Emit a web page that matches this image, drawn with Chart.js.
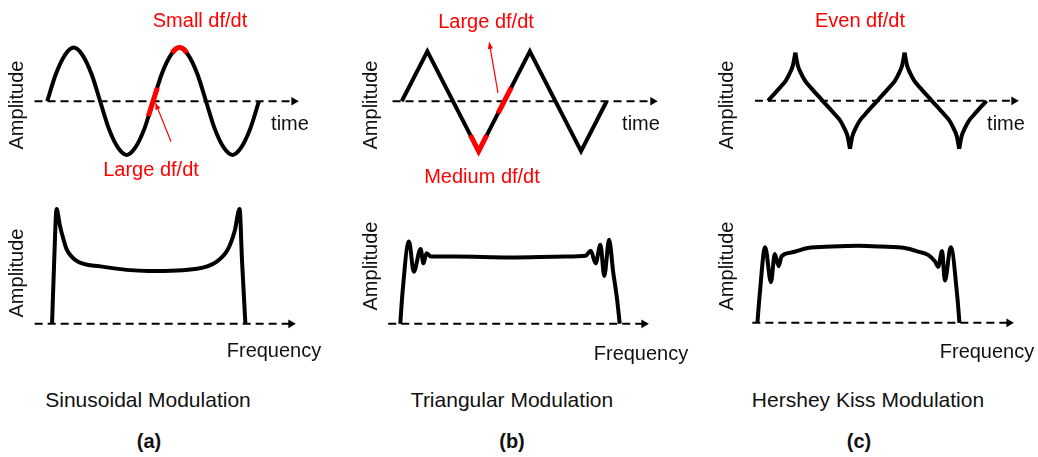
<!DOCTYPE html>
<html>
<head>
<meta charset="utf-8">
<script src="https://cdn.jsdelivr.net/npm/chart.js@4.4.1/dist/chart.umd.min.js"></script>
<style>
  html, body { margin: 0; padding: 0; background: #fff; }
  body { width: 1038px; height: 457px; position: relative; overflow: hidden;
         font-family: "Liberation Sans", Arial, sans-serif; }
  canvas { position: absolute; }
  .lbl { position: absolute; font-size: 20px; line-height: 20px; white-space: nowrap; color: #111;
         transform: translate(-50%, -50%); }
  .red { color: #ff0000; }
  .rot { transform: translate(-50%, -50%) rotate(-90deg); }
  .cap { font-size: 21px; }
  .bold { font-weight: bold; }
</style>
</head>
<body>
<script>
// ---- (a) sinusoidal modulation: time in periods, amplitude -1..1
const sinT = [0, 0.08, 0.17, 0.25, 0.33, 0.42, 0.5, 0.58, 0.67, 0.75, 0.83, 0.92, 1,
              1.08, 1.17, 1.25, 1.33, 1.42, 1.5, 1.58, 1.67, 1.75, 1.83, 1.92, 2];
const sinA = [0, 0.5, 0.87, 1, 0.87, 0.5, 0, -0.5, -0.87, -1, -0.87, -0.5, 0,
              0.5, 0.87, 1, 0.87, 0.5, 0, -0.5, -0.87, -1, -0.87, -0.5, 0];
const sinSmallT = [1.18, 1.21, 1.25, 1.29, 1.32];
const sinSmallA = [0.9, 0.97, 1, 0.97, 0.9];
const sinLargeT = [0.955, 1.04];
const sinLargeA = [-0.28, 0.25];
// spectrum (a): frequency -1..1, amplitude relative to peak
const specAF = [-1, -0.98, -0.953, -0.92, -0.88, -0.85, -0.75, -0.5, 0, 0.5, 0.7, 0.82, 0.89, 0.94, 0.965, 1];
const specAA = [0, 0.5, 1, 0.86, 0.73, 0.65, 0.55, 0.5, 0.46, 0.48, 0.54, 0.65, 0.81, 1, 0.55, 0];

// ---- (b) triangular modulation
const triT = [0, 0.25, 0.75, 1.25, 1.75, 2];
const triA = [0, 1, -1, 1, -1, 0];
const triMedT = [0.67, 0.75, 0.83];
const triMedA = [-0.68, -1, -0.68];
const triLargeT = [0.94, 1.07];
const triLargeA = [-0.24, 0.28];
const specBF = [-1, -0.98, -0.921, -0.877, -0.815, -0.789, -0.762, -0.72, -0.5, 0, 0.5, 0.69,
                0.736, 0.78, 0.824, 0.859, 0.903, 0.94, 0.975, 1];
const specBA = [0, 0.37, 0.98, 0.62, 0.89, 0.72, 0.84, 0.8, 0.8, 0.79, 0.8, 0.81,
                0.87, 0.72, 0.94, 0.57, 1, 0.62, 0.3, 0];

// ---- (c) hershey kiss modulation
const kissT = [0, 0.115, 0.163, 0.2, 0.228, 0.25, 0.272, 0.3, 0.338, 0.385, 0.5,
               0.615, 0.663, 0.7, 0.728, 0.75, 0.772, 0.8, 0.838, 0.885, 1,
               1.115, 1.163, 1.2, 1.228, 1.25, 1.272, 1.3, 1.338, 1.385, 1.5,
               1.615, 1.663, 1.7, 1.728, 1.75, 1.772, 1.8, 1.838, 1.885, 2];
const kissA = [0, 0.29, 0.42, 0.58, 0.74, 1, 0.74, 0.58, 0.42, 0.29, 0,
               -0.29, -0.42, -0.58, -0.74, -1, -0.74, -0.58, -0.42, -0.29, 0,
               0.29, 0.42, 0.58, 0.74, 1, 0.74, 0.58, 0.42, 0.29, 0,
               -0.29, -0.42, -0.58, -0.74, -1, -0.74, -0.58, -0.42, -0.29, 0];
const specCF = [-1, -0.98, -0.923, -0.866, -0.828, -0.789, -0.761, -0.665, -0.5, -0.26, 0, 0.22,
                0.46, 0.6, 0.69, 0.76, 0.79, 0.828, 0.856, 0.914, 0.98, 1];
const specCA = [0, 0.33, 1, 0.54, 0.91, 0.75, 0.88, 0.93, 0.99, 1.01, 1.02, 1.01,
                0.99, 0.94, 0.9, 0.81, 0.74, 0.95, 0.56, 1, 0.33, 0];

// axis extents (start, arrow) in each panel's units
const axisTopA = [-0.12, 2.33], axisBotA = [-1.18, 1.47];
const axisTopB = [-0.09, 2.45], axisBotB = [-1.11, 1.22];
const axisTopC = [-0.12, 2.25], axisBotC = [-1.05, 1.49];

const BLACK = '#000', RED = '#ff0000';

const redArrows = {
    id: 'redArrows',
    afterDatasetsDraw(chart, args, opts) {
        const {ctx, scales: {x, y}} = chart;
        (opts.list || []).forEach(a => {
            const x1 = x.getPixelForValue(a[0]), y1 = y.getPixelForValue(a[1]);
            const x2 = x.getPixelForValue(a[2]), y2 = y.getPixelForValue(a[3]);
            const ang = Math.atan2(y2 - y1, x2 - x1);
            ctx.save();
            ctx.strokeStyle = RED; ctx.fillStyle = RED; ctx.lineWidth = 1.2;
            ctx.beginPath(); ctx.moveTo(x1, y1); ctx.lineTo(x2, y2); ctx.stroke();
            ctx.beginPath(); ctx.moveTo(x2, y2);
            ctx.lineTo(x2 - 7 * Math.cos(ang - 0.4), y2 - 7 * Math.sin(ang - 0.4));
            ctx.lineTo(x2 - 7 * Math.cos(ang + 0.4), y2 - 7 * Math.sin(ang + 0.4));
            ctx.closePath(); ctx.fill();
            ctx.restore();
        });
    }
};

function pts(xs, ys) { return xs.map((x, i) => ({x, y: ys[i]})); }

function curve(xs, ys, color, width, straight) {
    return {
        data: pts(xs, ys), borderColor: color, borderWidth: width, pointRadius: 0,
        cubicInterpolationMode: straight ? 'default' : 'monotone', tension: 0, clip: false
    };
}

function axisLine(ext) {
    return {
        data: [{x: ext[0], y: 0}, {x: ext[1], y: 0}], borderColor: BLACK, borderWidth: 2, borderDash: [8, 5],
        pointRadius: [0, 5], pointStyle: 'triangle', rotation: 90, pointBackgroundColor: BLACK,
        pointBorderWidth: 0, tension: 0, clip: false
    };
}

// box = [left, top, w, h] ; cal = [x px of 0, px per x unit, y px of 0, px per y unit]
function panel(box, cal, datasets, arrows) {
    const c = document.createElement('canvas');
    c.width = box[2]; c.height = box[3];
    Object.assign(c.style, {left: box[0] + 'px', top: box[1] + 'px', width: box[2] + 'px', height: box[3] + 'px'});
    document.body.appendChild(c);
    const [x0, sx, y0, sy] = cal;
    new Chart(c, {
        type: 'line',
        data: {datasets},
        options: {
            responsive: false, animation: false, events: [], devicePixelRatio: 1,
            layout: {padding: 0},
            scales: {
                x: {type: 'linear', display: false, min: (box[0] - x0) / sx, max: (box[0] + box[2] - x0) / sx},
                y: {type: 'linear', display: false, min: (y0 - box[1] - box[3]) / sy, max: (y0 - box[1]) / sy}
            },
            plugins: {legend: {display: false}, tooltip: {enabled: false}, redArrows: {list: arrows || []}}
        },
        plugins: [redArrows]
    });
}

// (a)
panel([20, 30, 300, 150], [43, 109.5, 101, 57.5], [
    curve(sinSmallT, sinSmallA, RED, 5),
    curve(sinLargeT, sinLargeA, RED, 5, true),
    curve(sinT, sinA, BLACK, 4),
    axisLine(axisTopA)
], [[1.169, -0.748, 1.023, -0.035]]);
panel([20, 190, 300, 150], [148, 100, 328, 123], [
    curve(specAF, specAA, BLACK, 4),
    axisLine(axisBotA)
]);

// (b)
panel([375, 30, 300, 150], [397.5, 106, 101, 53.5], [
    curve(triMedT, triMedA, RED, 5, true),
    curve(triLargeT, triLargeA, RED, 5, true),
    curve(triT, triA, BLACK, 4, true),
    axisLine(axisTopB)
], [[0.939, 0.168, 0.854, 1.18]]);
panel([375, 190, 300, 150], [509.5, 113.5, 328, 90], [
    curve(specBF, specBA, BLACK, 4),
    axisLine(axisBotB)
]);

// (c) - split the kiss curve at its cusps so each arc ends sharply
const cuts = [0];
kissA.forEach((v, i) => { if (Math.abs(v) === 1) cuts.push(i); });
cuts.push(kissA.length - 1);
const kissSets = [];
for (let k = 0; k < cuts.length - 1; k++) {
    kissSets.push(curve(kissT.slice(cuts[k], cuts[k + 1] + 1), kissA.slice(cuts[k], cuts[k + 1] + 1), BLACK, 4));
}
panel([735, 30, 300, 150], [764, 113, 100.5, 51.5], [...kissSets, axisLine(axisTopC)]);
panel([735, 190, 300, 150], [857.5, 104.5, 327, 81], [
    curve(specCF, specCA, BLACK, 4),
    axisLine(axisBotC)
]);

// text
const labels = [
    ['Small df/dt', 200, 20, 'red'], ['Large df/dt', 151, 169, 'red'], ['time', 290, 123, ''],
    ['Amplitude', 16, 105, 'rot'], ['Amplitude', 16, 273, 'rot'], ['Frequency', 274, 350, ''],
    ['Large df/dt', 486, 21, 'red'], ['Medium df/dt', 482, 176, 'red'], ['time', 641, 123, ''],
    ['Amplitude', 370, 105, 'rot'], ['Amplitude', 370, 266, 'rot'], ['Frequency', 641, 353, ''],
    ['Even df/dt', 860, 20, 'red'], ['time', 1006, 123, ''],
    ['Amplitude', 726, 105, 'rot'], ['Amplitude', 726, 266, 'rot'], ['Frequency', 987, 351, ''],
    ['Sinusoidal Modulation', 148, 400, 'cap'], ['Triangular Modulation', 512, 400, 'cap'],
    ['Hershey Kiss Modulation', 868, 400, 'cap'],
    ['(a)', 149, 441, 'bold'], ['(b)', 512, 441, 'bold'], ['(c)', 859, 441, 'bold']
];
labels.forEach(([txt, x, y, cls]) => {
    const d = document.createElement('div');
    d.className = 'lbl ' + cls;
    d.textContent = txt;
    d.style.left = x + 'px'; d.style.top = y + 'px';
    document.body.appendChild(d);
});
</script>
</body>
</html>
